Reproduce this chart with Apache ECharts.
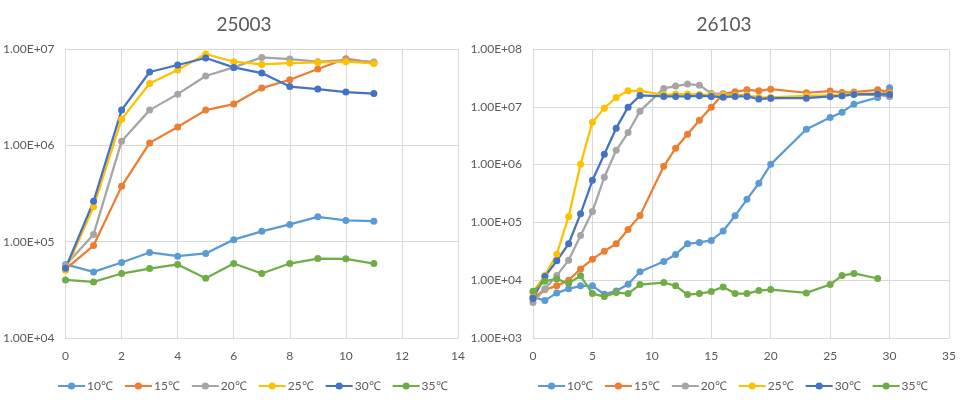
<!DOCTYPE html>
<html>
<head>
<meta charset="utf-8">
<script src="https://cdn.jsdelivr.net/npm/echarts@6/dist/echarts.min.js"></script>
<style>
html,body{margin:0;padding:0;background:#fff;}
#chart{width:971px;height:400px;}
</style>
</head>
<body>
<div id="chart"></div>
<script>
// ---- Data ----
const seriesNames = ['10℃', '15℃', '20℃', '25℃', '30℃', '35℃'];
const colors = ['#5B9BD5', '#ED7D31', '#A5A5A5', '#FFC000', '#4472C4', '#70AD47'];

// Chart 1: 25003
const title1 = '25003';
const x1 = [0, 1, 2, 3, 4, 5, 6, 7, 8, 9, 10, 11];
const a10 = [58000, 48500, 60800, 77300, 70700, 75400, 105000, 128000, 151000, 181000, 166000, 163000];
const a15 = [52000, 91200, 375000, 1060000, 1550000, 2320000, 2680000, 3930000, 4800000, 6190000, 7930000, 7200000];
const a20 = [57000, 119000, 1100000, 2320000, 3400000, 5240000, 6440000, 8180000, 7870000, 7380000, 7680000, 7330000];
const a25 = [50500, 230000, 1870000, 4380000, 6040000, 8870000, 7380000, 6920000, 7150000, 7260000, 7380000, 7080000];
const a30 = [53000, 262000, 2320000, 5770000, 6820000, 8060000, 6440000, 5620000, 4080000, 3840000, 3570000, 3450000];
const a35 = [40100, 38200, 46700, 52600, 58000, 41700, 59300, 46700, 59300, 66800, 66300, 59300];

// Chart 2: 26103
const title2 = '26103';
const x2 = [0, 1, 2, 3, 4, 5, 6, 7, 8, 9, 11, 12, 13, 14, 15, 16, 17, 18, 19, 20, 23, 25, 26, 27, 29, 30];
const b10 = [5140, 4440, 6030, 7080, 7980, 7980, 5710, 6530, 8530, 13950, 21100, 27900, 42700, 45000, 48700, 70800, 130000, 251000, 475000, 1010000, 4100000, 6530000, 8080000, 11100000, 14500000, 21300000];
const b15 = [4940, 6890, 7980, 10000, 15700, 23100, 31800, 42700, 75600, 131000, 935000, 1920000, 3360000, 5870000, 9870000, 16800000, 18200000, 19700000, 18900000, 20200000, 17500000, 18700000, 17700000, 18000000, 19700000, 18200000];
const b20 = [4100, 7080, 12000, 22200, 59600, 155000, 603000, 1770000, 3590000, 8410000, 20800000, 22800000, 24700000, 23700000, 17000000, 16600000, 15900000, 15900000, 14000000, 14000000, 14900000, 15100000, 15500000, 16600000, 16200000, 14900000];
const b25 = [6280, 12000, 28200, 127000, 1010000, 5420000, 9480000, 14500000, 18900000, 18900000, 16100000, 16600000, 16600000, 16400000, 16100000, 16000000, 15800000, 15800000, 14500000, 14500000, 15500000, 15800000, 16200000, 16800000, 17000000, 17000000];
const b30 = [4810, 11600, 21600, 42700, 141000, 535000, 1510000, 4270000, 9870000, 15700000, 15100000, 15100000, 15100000, 15500000, 15100000, 14700000, 15100000, 15100000, 13600000, 14100000, 14100000, 15100000, 15500000, 16400000, 16600000, 16400000];
const b35 = [6440, 9610, 10500, 8870, 11900, 5870, 5210, 6110, 5870, 8410, 9120, 7980, 5640, 5870, 6360, 7660, 5870, 5870, 6620, 6890, 6030, 8410, 12000, 13100, 10700];

const x1Ticks = {min: 0, max: 14, interval: 2};
const x2Ticks = {min: 0, max: 35, interval: 5};
const y1Range = {min: 1e4, max: 1e7};
const y2Range = {min: 1e3, max: 1e8};

// ---- Build ----
const FONT = 'Lato, "Liberation Sans", sans-serif';
const TXT = '#595959';
const GRID = '#d9d9d9';

function pairs(xs, ys) { return ys.map((v, i) => [xs[i], v]); }
function expFmt(v) {
  const e = Math.round(Math.log10(v));
  const m = v / Math.pow(10, e);
  const s = e < 0 ? '-' : '+';
  const ae = Math.abs(e);
  return m.toFixed(2) + 'E' + s + (ae < 10 ? '0' : '') + ae;
}

function xAxis(gi, t) {
  return {
    type: 'value', gridIndex: gi, min: t.min, max: t.max, interval: t.interval,
    axisLine: {show: true, lineStyle: {color: GRID, width: 1}},
    axisTick: {show: false},
    splitLine: {show: true, lineStyle: {color: GRID, width: 1}},
    axisLabel: {color: TXT, fontSize: 12, fontFamily: FONT, margin: 12}
  };
}
function yAxis(gi, r) {
  return {
    type: 'log', logBase: 10, gridIndex: gi, min: r.min, max: r.max,
    axisLine: {show: true, lineStyle: {color: GRID, width: 1}},
    axisTick: {show: false},
    splitLine: {show: true, lineStyle: {color: GRID, width: 1}},
    axisLabel: {color: TXT, fontSize: 12, fontFamily: FONT, margin: 11, formatter: expFmt}
  };
}

const data1 = [a10, a15, a20, a25, a30, a35];
const data2 = [b10, b15, b20, b25, b30, b35];
const series = [];
function mk(name, color, d, gi) {
  return {
    name: name, type: 'line', xAxisIndex: gi, yAxisIndex: gi,
    data: d, symbol: 'circle', symbolSize: 7, showSymbol: true,
    lineStyle: {width: 2.25, color: color},
    itemStyle: {color: color},
    emphasis: {disabled: true},
    z: 2
  };
}
seriesNames.forEach((n, i) => series.push(mk(n, colors[i], pairs(x1, data1[i]), 0)));
seriesNames.forEach((n, i) => series.push(mk(n, colors[i], pairs(x2, data2[i]), 1)));

function legend(left) {
  return {
    data: seriesNames, left: left, top: 375, itemWidth: 27, itemHeight: 9, itemGap: 11,
    itemStyle: {borderWidth: 0},
    textStyle: {color: TXT, fontSize: 12, fontFamily: FONT, padding: [0, 0, 0, -3]},
    selectedMode: false
  };
}

const option = {
  animation: false,
  backgroundColor: '#fff',
  color: colors,
  title: [
    {text: title1, left: 239, top: 10, textAlign: 'center', textStyle: {color: TXT, fontSize: 19, fontWeight: 'normal', fontFamily: FONT}},
    {text: title2, left: 719, top: 10, textAlign: 'center', textStyle: {color: TXT, fontSize: 19, fontWeight: 'normal', fontFamily: FONT}}
  ],
  legend: [legend(52), legend(532)],
  grid: [
    {left: 65, top: 49, width: 393, height: 289, containLabel: false},
    {left: 533, top: 49, width: 416, height: 289, containLabel: false}
  ],
  xAxis: [xAxis(0, x1Ticks), xAxis(1, x2Ticks)],
  yAxis: [yAxis(0, y1Range), yAxis(1, y2Range)],
  series: series
};

const chart = echarts.init(document.getElementById('chart'), null, {renderer: 'canvas'});
chart.setOption(option);
</script>
</body>
</html>
